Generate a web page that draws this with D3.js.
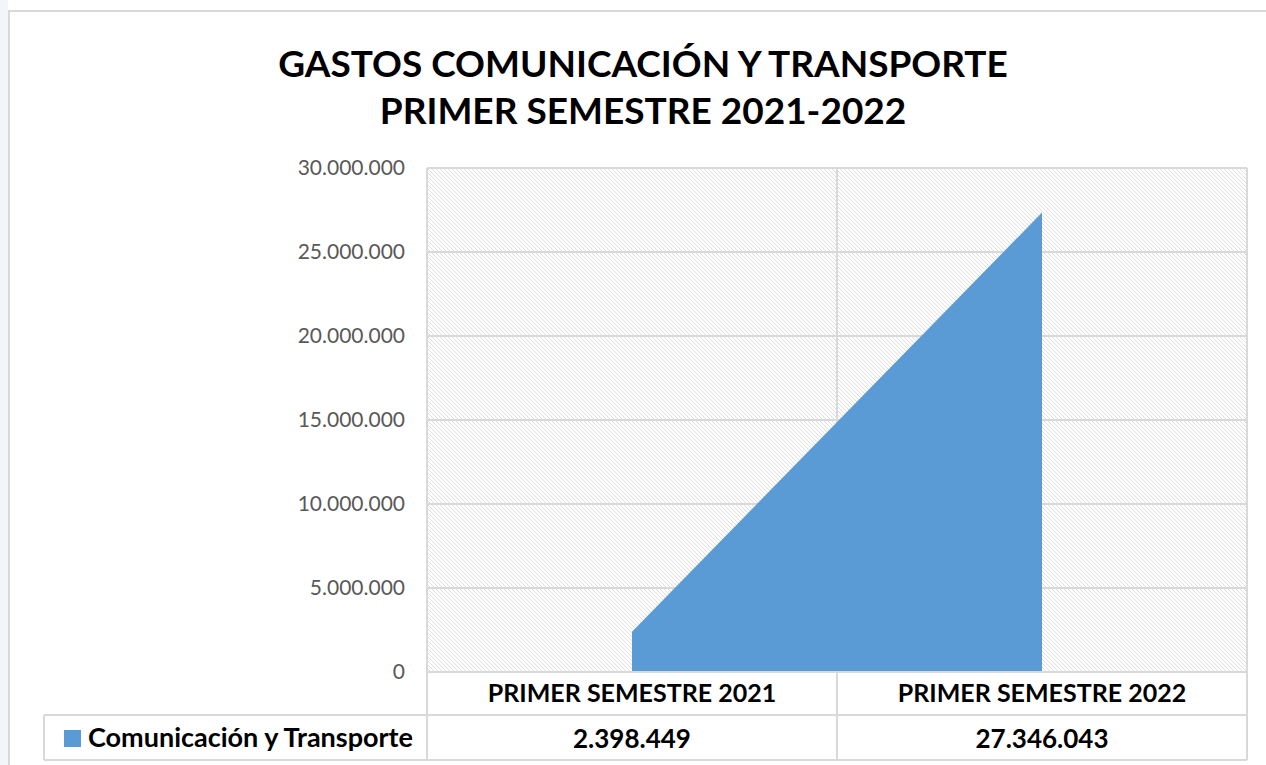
<!DOCTYPE html>
<html>
<head>
<meta charset="utf-8">
<script src="https://cdn.jsdelivr.net/npm/d3@7"></script>
<style>
  body { margin: 0; background: #fff; }
  svg text { font-family: Lato, "Open Sans", sans-serif; }
</style>
</head>
<body>
<div id="chart"></div>
<script>
const [width, height] = [1266, 765];

// data
const categories = ["PRIMER SEMESTRE 2021", "PRIMER SEMESTRE 2022"];
const seriesName = "Comunicación y Transporte";
const values = [2398449, 27346043];
const yTicks = [0, 5000000, 10000000, 15000000, 20000000, 25000000, 30000000];
const titleLines = ["GASTOS COMUNICACIÓN Y TRANSPORTE", "PRIMER SEMESTRE 2021-2022"];

const margin = {top: 168, right: 19, bottom: 93, left: 427};
const plotW = width - margin.left - margin.right;
const plotH = height - margin.top - margin.bottom;

const fmt = v => d3.format(",")(v).replace(/,/g, ".");

const svg = d3.select("#chart")
  .append("svg")
  .attr("width", width)
  .attr("height", height);

// hatch pattern
const defs = svg.append("defs");
const pat = defs.append("pattern")
  .attr("id", "hatch")
  .attr("patternUnits", "userSpaceOnUse")
  .attr("width", 4).attr("height", 4);
pat.append("rect").attr("width", 4).attr("height", 4).attr("fill", "#fff");
pat.append("path")
  .attr("d", "M-1,-1 L5,5 M-1,3 L1,5 M3,-1 L5,1")
  .attr("stroke", "#dedede").attr("stroke-width", 1);

// faint left strip + card border
svg.append("rect").attr("x", 0).attr("y", 0).attr("width", 8).attr("height", height).attr("fill", "#f2f5fa");
svg.append("rect").attr("x", 9).attr("y", 11).attr("width", width).attr("height", height)
  .attr("fill", "#fff").attr("stroke", "#d9d9d9").attr("stroke-width", 2);

// title
svg.append("g").selectAll("text")
  .data(titleLines)
  .join("text")
  .attr("x", 643)
  .attr("y", (d, i) => 77 + i * 47)
  .attr("text-anchor", "middle")
  .attr("font-size", 37)
  .attr("font-weight", "bold")
  .attr("fill", "#000")
  .text(d => d);

const g = svg.append("g").attr("transform", `translate(${margin.left},${margin.top})`);

const x = d3.scaleBand().domain(categories).range([0, plotW]);
const y = d3.scaleLinear().domain([0, 30000000]).range([plotH, 0]);

g.append("rect").attr("width", plotW).attr("height", plotH).attr("fill", "url(#hatch)");

// gridlines
g.append("g").selectAll("line")
  .data(yTicks)
  .join("line")
  .attr("x1", 0).attr("x2", plotW)
  .attr("y1", d => y(d)).attr("y2", d => y(d))
  .attr("stroke", "#d9d9d9").attr("stroke-width", 2);

// vertical category boundaries
const bounds = [0, plotW / 2, plotW];
g.append("g").selectAll("line")
  .data(bounds)
  .join("line")
  .attr("x1", d => d).attr("x2", d => d)
  .attr("y1", 0).attr("y2", plotH)
  .attr("stroke", "#d9d9d9").attr("stroke-width", 2);

// area
const pts = categories.map((c, i) => ({c, v: values[i]}));
const area = d3.area()
  .x(d => x(d.c) + x.bandwidth() / 2)
  .y0(y(0))
  .y1(d => y(d.v));
g.append("path").datum(pts).attr("d", area).attr("fill", "#5b9bd5");

// y axis
const yAxis = d3.axisLeft(y).tickValues(yTicks).tickSize(0).tickPadding(22).tickFormat(fmt);
g.append("g").call(yAxis)
  .call(s => s.select(".domain").remove())
  .selectAll("text")
  .attr("font-size", 21)
  .attr("fill", "#595959")
  .style("font-family", "Lato, 'Open Sans', sans-serif");

// data table
const row1 = plotH, row2 = plotH + 43, row3 = plotH + 88;
const tbl = g.append("g");
const tableLeft = 44 - margin.left;
const lineCol = "#d9d9d9";
tbl.append("line").attr("x1", 0).attr("x2", plotW).attr("y1", row1).attr("y2", row1).attr("stroke", lineCol).attr("stroke-width", 2);
tbl.append("line").attr("x1", tableLeft).attr("x2", plotW).attr("y1", row2).attr("y2", row2).attr("stroke", lineCol).attr("stroke-width", 2);
tbl.append("line").attr("x1", tableLeft).attr("x2", plotW).attr("y1", row3).attr("y2", row3).attr("stroke", lineCol).attr("stroke-width", 2);
tbl.append("line").attr("x1", tableLeft).attr("x2", tableLeft).attr("y1", row2).attr("y2", row3).attr("stroke", lineCol).attr("stroke-width", 2);
tbl.selectAll(".vb")
  .data(bounds)
  .join("line")
  .attr("class", "vb")
  .attr("x1", d => d).attr("x2", d => d)
  .attr("y1", row1).attr("y2", row3)
  .attr("stroke", lineCol).attr("stroke-width", 2);

tbl.selectAll(".cat")
  .data(categories)
  .join("text")
  .attr("class", "cat")
  .attr("x", d => x(d) + x.bandwidth() / 2)
  .attr("y", row1 + 30)
  .attr("text-anchor", "middle")
  .attr("font-size", 25)
  .attr("font-weight", "bold")
  .attr("fill", "#000")
  .text(d => d);

tbl.selectAll(".val")
  .data(pts)
  .join("text")
  .attr("class", "val")
  .attr("x", d => x(d.c) + x.bandwidth() / 2)
  .attr("y", row2 + 33)
  .attr("text-anchor", "middle")
  .attr("font-size", 26)
  .attr("font-weight", "bold")
  .attr("fill", "#000")
  .text(d => fmt(d.v));

// legend key in table
tbl.append("rect").attr("x", 64 - margin.left).attr("y", row2 + 15).attr("width", 17).attr("height", 17).attr("fill", "#5b9bd5");
tbl.append("text")
  .attr("x", 88 - margin.left)
  .attr("y", row2 + 32)
  .attr("font-size", 27)
  .attr("font-weight", "bold")
  .attr("fill", "#000")
  .text(seriesName);
</script>
</body>
</html>
